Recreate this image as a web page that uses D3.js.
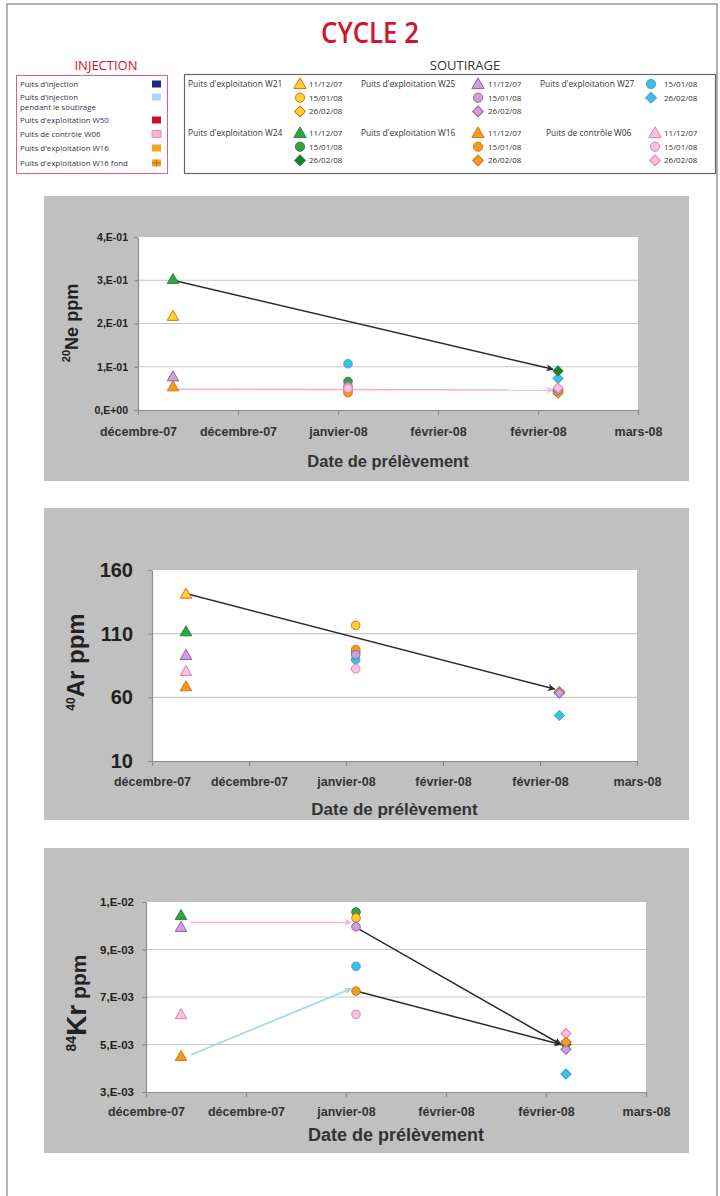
<!DOCTYPE html>
<html><head><meta charset="utf-8">
<script src="https://cdn.jsdelivr.net/npm/d3@7"></script>
<style>body{margin:0;background:#fff}svg{display:block}</style>
</head><body><svg id="c" width="720" height="1196"></svg>
<script>
// ---------------- DATA ----------------
const wells = ["W21","W25","W27","W24","W16","W06"];
const wellLabels = ["Puits d'exploitation W21","Puits d'exploitation W25","Puits d'exploitation W27",
                    "Puits d'exploitation W24","Puits d'exploitation W16","Puits de contrôle W06"];
const sampleDates = ["2007-12-11","2008-01-15","2008-02-26"];
const dateLabels = ["11/12/07","15/01/08","26/02/08"];
const xTickDates = ["2007-12-04","2007-12-24","2008-01-13","2008-02-02","2008-02-22","2008-03-13"];

const injLabels = [["Puits d'injection"],["Puits d'injection","pendant le soutirage"],["Puits d'exploitation W50"],
                   ["Puits de contrôle W06"],["Puits d'exploitation W16"],["Puits d'exploitation W16 fond"]];

// 20Ne (ppm) per well, one value per sample date (null = not plotted)
const ne_W21 = [0.215, 0.045, 0.042];
const ne_W25 = [0.075, 0.055, 0.046];
const ne_W27 = [null, 0.107, 0.073];
const ne_W24 = [0.300, 0.066, 0.090];
const ne_W16 = [0.052, 0.040, 0.039];
const ne_W06 = [null, 0.050, 0.051];
const neTicks = [0, 0.1, 0.2, 0.3, 0.4];
const neArrows = [["2007-12-11", 0.300, "2008-02-25", 0.094, "trend"],
                  ["2007-12-12", 0.048, "2008-02-25", 0.046, "W06"]];

// 40Ar (ppm)
const ar_W21 = [140.5, 116.5, 64.0];
const ar_W25 = [92.3, 93.5, 63.3];
const ar_W27 = [null, 89.7, 45.8];
const ar_W24 = [110.9, 95.5, 64.0];
const ar_W16 = [67.8, 97.5, 64.5];
const ar_W06 = [79.8, 82.4, 64.0];
const arTicks = [10, 60, 110, 160];
const arArrows = [["2007-12-11", 141.5, "2008-02-25", 66.5, "trend"]];

// 84Kr (ppm)
const kr_W21 = [null, 0.01033, 0.00510];
const kr_W25 = [0.00990, 0.00996, 0.00480];
const kr_W27 = [null, 0.00829, 0.00376];
const kr_W24 = [0.01040, 0.01058, 0.00500];
const kr_W16 = [0.00447, 0.00725, 0.00510];
const kr_W06 = [0.00623, 0.00627, 0.00546];
const krTicks = [0.003, 0.005, 0.007, 0.009, 0.011];
const krArrows = [["2007-12-13", 0.01014, "2008-01-14", 0.01014, "W06"],
                  ["2007-12-13", 0.00457, "2008-01-14", 0.00735, "injSout"],
                  ["2008-01-15", 0.00993, "2008-02-25", 0.00500, "trend"],
                  ["2008-01-15", 0.00725, "2008-02-25", 0.00500, "trend"]];

// ---------------- STYLES ----------------
const fillC  = {W21:"#ffd42e", W25:"#c9a2dc", W27:"#45bde3", W24:"#35a046", W16:"#f29b22", W06:"#f8c2dc"};
const strokeC= {W21:"#e8681c", W25:"#9660b2", W27:"#2ea9d8", W24:"#258a38", W16:"#cf7a14", W06:"#e07fae"};
const diamondFill = {W24:"#1f7d33"};
const arrowC = {trend:"#2b2b2b", W06:"#ecb6d6", injSout:"#9fd3ef"};
const injColors = ["#1c2a84","#a9daf3","#c8102e","#f6b4d2","#f4a51d","#f0a030"];
const shapes = [d3.symbolTriangle, d3.symbolCircle, d3.symbolSquare];
const shapeRot = [0, 0, 45];

const parse = d3.timeParse("%Y-%m-%d");
const fr = d3.timeFormatLocale({dateTime:"%A %e %B %Y à %X", date:"%d/%m/%Y", time:"%H:%M:%S", periods:["AM","PM"],
  days:["dimanche","lundi","mardi","mercredi","jeudi","vendredi","samedi"],
  shortDays:["dim.","lun.","mar.","mer.","jeu.","ven.","sam."],
  months:["janvier","février","mars","avril","mai","juin","juillet","août","septembre","octobre","novembre","décembre"],
  shortMonths:["janv.","févr.","mars","avr.","mai","juin","juil.","août","sept.","oct.","nov.","déc."]});
const monthFmt = fr.format("%B-%y");
function sciFr(v){
  if (v === 0) return "0,E+00";
  let e = Math.floor(Math.log10(v)); let m = Math.round(v / Math.pow(10, e));
  if (m >= 10) { m = 1; e += 1; }
  const s = e < 0 ? "-" : "+";
  return m + ",E" + s + String(Math.abs(e)).padStart(2, "0");
}
function symPath(di, k){
  const sizes = [58, 58, 50];
  return d3.symbol().type(shapes[di]).size(sizes[di]*k)();
}

const svg = d3.select("#c");
const LS = "'Liberation Sans', Arial, sans-serif";
const OS = "'Open Sans', sans-serif";

// page frame
svg.append("rect").attr("x",7).attr("y",4).attr("width",710).attr("height",1200)
  .attr("fill","none").attr("stroke","#9a9a9a").attr("stroke-width",1.5);

// title
svg.append("text").attr("x",370).attr("y",43).attr("text-anchor","middle")
  .attr("font-family",OS).attr("font-weight",600).attr("font-size",28).attr("fill","#d3122e")
  .attr("textLength",98).attr("lengthAdjust","spacingAndGlyphs").text("CYCLE 2");

// ---------------- INJECTION legend ----------------
svg.append("text").attr("x",106).attr("y",70).attr("text-anchor","middle").attr("font-family",OS)
  .attr("font-size",13).attr("fill","#d3122e").text("INJECTION");
svg.append("rect").attr("x",16.5).attr("y",75.5).attr("width",151).attr("height",98)
  .attr("fill","#fff").attr("stroke","#e0607a").attr("stroke-width",1);
const injY = [87, 100, 123, 137, 151, 166];
injLabels.forEach((lines,i)=>{
  const t = svg.append("text").attr("x",20).attr("y",injY[i]).attr("font-family",OS)
    .attr("font-size",7.9).attr("fill","#3a3050");
  lines.forEach((l,j)=> t.append("tspan").attr("x",20).attr("dy", j?10:0).text(l));
  svg.append("rect").attr("x",152).attr("y",injY[i]-6.5).attr("width",9).attr("height",7)
    .attr("fill",injColors[i]).attr("stroke", i===3 ? "#e07fae" : "none").attr("stroke-width",0.8);
  if (i===5){
    svg.append("path").attr("d",`M152,${injY[i]-3}h9M156.5,${injY[i]-6.5}v7`)
      .attr("stroke","#b06010").attr("stroke-width",0.9);
  }
});

// ---------------- SOUTIRAGE legend ----------------
svg.append("text").attr("x",465).attr("y",70).attr("text-anchor","middle").attr("font-family",OS)
  .attr("font-size",13).attr("fill","#333").text("SOUTIRAGE");
svg.append("rect").attr("x",184.5).attr("y",74.5).attr("width",531).attr("height",99)
  .attr("fill","#fff").attr("stroke","#666").attr("stroke-width",1.2);
const legGroups = [
  {w:0, lx:188, sx:300, dx:309, y0:84},
  {w:1, lx:361, sx:478, dx:488, y0:84},
  {w:2, lx:540, sx:651, dx:664, y0:84},
  {w:3, lx:188, sx:300, dx:309, y0:133},
  {w:4, lx:361, sx:478, dx:488, y0:133},
  {w:5, lx:546, sx:655, dx:664, y0:133}];
legGroups.forEach(gp=>{
  const well = wells[gp.w];
  svg.append("text").attr("x",gp.lx).attr("y",gp.y0+3).attr("font-family",OS).attr("font-size",8.4)
    .attr("fill","#333").text(wellLabels[gp.w]);
  const idxs = well==="W27" ? [1,2] : [0,1,2];
  idxs.forEach((di,k)=>{
    const yy = gp.y0 + k*13.7;
    svg.append("path").attr("transform",`translate(${gp.sx},${yy + (di===0?1:0)}) rotate(${shapeRot[di]})`)
      .attr("d", symPath(di, 1.15))
      .attr("fill", di===2 && diamondFill[well] ? diamondFill[well] : fillC[well])
      .attr("stroke", strokeC[well]).attr("stroke-width",1);
    svg.append("text").attr("x",gp.dx).attr("y",yy+3).attr("font-family",OS).attr("font-size",8)
      .attr("fill","#333").text(dateLabels[di]);
  });
});

// arrow markers
const defs = svg.append("defs");
Object.entries(arrowC).forEach(([k,c])=>{
  defs.append("marker").attr("id","ah-"+k).attr("viewBox","0 0 10 10").attr("refX",9).attr("refY",5)
    .attr("markerWidth",k==="trend"?5:4.5).attr("markerHeight",k==="trend"?5:4.5).attr("orient","auto")
    .attr("markerUnits","strokeWidth")
    .append("path").attr("d","M0,0 L10,5 L0,10 L3,5 Z").attr("fill",c);
});

// ---------------- CHARTS ----------------
function drawChart(cfg){
  const g = svg.append("g");
  g.append("rect").attr("x",cfg.panel[0]).attr("y",cfg.panel[1]).attr("width",cfg.panel[2]-cfg.panel[0])
    .attr("height",cfg.panel[3]-cfg.panel[1]).attr("fill","#c0c0c0");
  const x = d3.scaleTime().domain([parse(xTickDates[0]), parse(xTickDates[xTickDates.length-1])])
    .range([cfg.left, cfg.right]);
  const y = d3.scaleLinear().domain(d3.extent(cfg.ticks)).range([cfg.bottom, cfg.top]);
  g.append("rect").attr("x",cfg.left).attr("y",cfg.top).attr("width",cfg.right-cfg.left)
    .attr("height",cfg.bottom-cfg.top).attr("fill","#fff");
  g.selectAll(".gl").data(cfg.ticks.slice(1,-1)).join("line")
    .attr("x1",cfg.left).attr("x2",cfg.right).attr("y1",d=>y(d)).attr("y2",d=>y(d))
    .attr("stroke","#c9c9c9").attr("stroke-width",1.2);
  const xa = g.append("g").attr("transform",`translate(0,${cfg.bottom})`)
    .call(d3.axisBottom(x).tickValues(xTickDates.map(parse)).tickFormat(monthFmt)
      .tickSize(5).tickSizeOuter(0).tickPadding(cfg.xPad));
  xa.selectAll("text").attr("font-family",LS).attr("font-weight","bold").attr("font-size",12.5).attr("fill","#333");
  const ya = g.append("g").attr("transform",`translate(${cfg.left},0)`)
    .call(d3.axisLeft(y).tickValues(cfg.ticks).tickFormat(cfg.fmt).tickSize(4).tickSizeOuter(0).tickPadding(cfg.yPad));
  ya.selectAll("text").attr("font-family",LS).attr("font-weight","bold").attr("font-size",cfg.yFs).attr("fill","#222");
  [xa,ya].forEach(a=>{a.selectAll("path,line").attr("stroke","#8c8c8c").attr("stroke-width",1.2);});
  cfg.arrows.forEach(a=>{
    g.append("line").attr("x1",x(parse(a[0]))).attr("y1",y(a[1])).attr("x2",x(parse(a[2]))).attr("y2",y(a[3]))
      .attr("stroke",arrowC[a[4]]).attr("stroke-width",a[4]==="trend"?1.5:1.6)
      .attr("marker-end",`url(#ah-${a[4]})`);
  });
  cfg.order.forEach(wi=>{
    const well = wells[wi];
    cfg.series[wi].forEach((v,di)=>{
      if (v === null) return;
      g.append("path").attr("transform",`translate(${x(parse(sampleDates[di]))},${y(v)}) rotate(${shapeRot[di]})`)
        .attr("d", symPath(di, 1))
        .attr("fill", di===2 && diamondFill[well] ? diamondFill[well] : fillC[well])
        .attr("stroke", strokeC[well]).attr("stroke-width",1);
    });
  });
  const t = g.append("text").attr("transform",`translate(${cfg.yTitle[0]},${cfg.yTitle[1]}) rotate(-90)`)
    .attr("text-anchor","middle").attr("font-family",LS).attr("font-weight","bold").attr("fill","#222");
  cfg.yTitleParts.forEach(p=> t.append("tspan").attr("font-size",p[1]).attr("dy",p[2]).text(p[0]));
  g.append("text").attr("x",(cfg.left+cfg.right)/2).attr("y",cfg.xTitleY).attr("text-anchor","middle")
    .attr("font-family",LS).attr("font-weight","bold").attr("font-size",cfg.xTitleFs).attr("fill","#333")
    .text("Date de prélèvement");
}

drawChart({panel:[44,196,689,481], left:138, right:638, top:237, bottom:410,
  ticks:neTicks, fmt:sciFr, yFs:10.5, yPad:6, xPad:12, xTitleY:467, xTitleFs:16.5,
  series:[ne_W21,ne_W25,ne_W27,ne_W24,ne_W16,ne_W06], order:[2,3,0,4,1,5], arrows:neArrows,
  yTitle:[78,323], yTitleParts:[["20",11,-8],["Ne ppm",18,8]]});

drawChart({panel:[44,508,689,820], left:152, right:637, top:570, bottom:761,
  ticks:arTicks, fmt:d3.format("d"), yFs:20, yPad:15, xPad:11, xTitleY:815, xTitleFs:17,
  series:[ar_W21,ar_W25,ar_W27,ar_W24,ar_W16,ar_W06], order:[0,2,5,3,4,1], arrows:arArrows,
  yTitle:[84,662], yTitleParts:[["40",12,-9],["Ar ppm",24,9]]});

drawChart({panel:[44,848,689,1153], left:146, right:646, top:902, bottom:1092,
  ticks:krTicks, fmt:sciFr, yFs:11.5, yPad:8, xPad:10, xTitleY:1141, xTitleFs:18,
  series:[kr_W21,kr_W25,kr_W27,kr_W24,kr_W16,kr_W06], order:[3,0,5,1,2,4], arrows:krArrows,
  yTitle:[86,1003], yTitleParts:[["84",14,-10],["Kr",28,10],["  ppm",21,0]]});
</script></body></html>
